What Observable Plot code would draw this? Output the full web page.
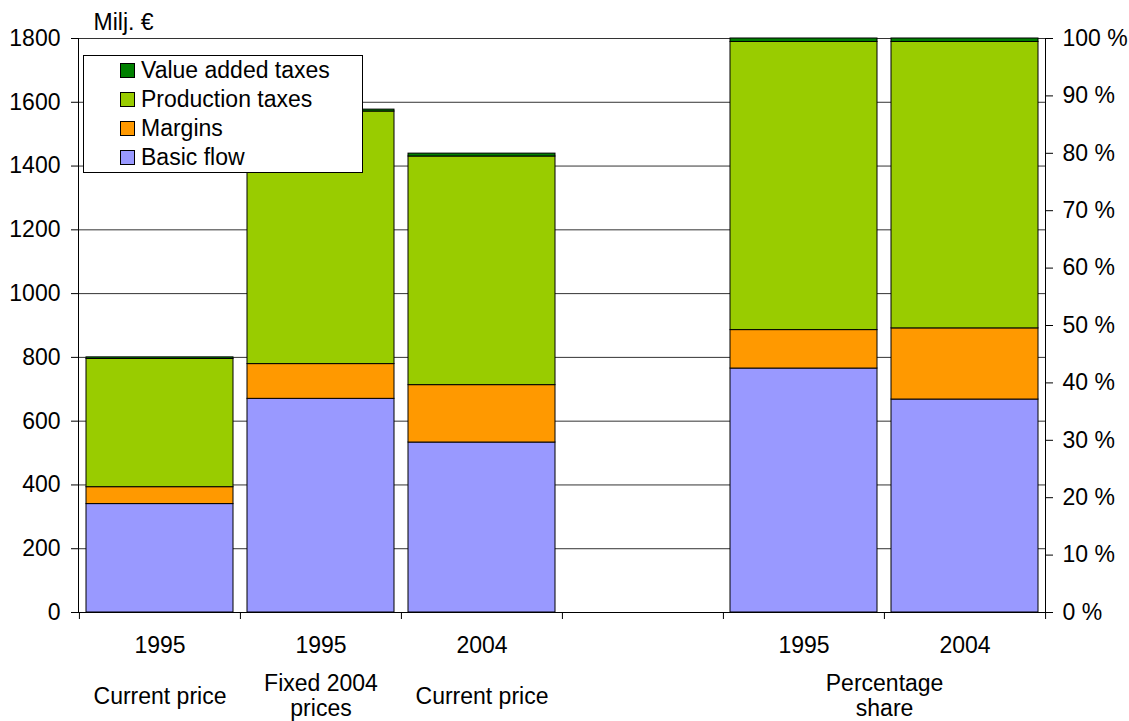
<!DOCTYPE html>
<html>
<head>
<meta charset="utf-8">
<script src="https://cdn.jsdelivr.net/npm/d3@7"></script>
<script src="https://cdn.jsdelivr.net/npm/@observablehq/plot@0.6"></script>
<style>
  body { margin: 0; background: #fff; font-family: "Liberation Sans", Arial, sans-serif; }
  #chart { position: relative; width: 1129px; height: 721px; }
  #chart svg { position: absolute; left: 0; top: 0; background: transparent; }
  .legend { position: absolute; left: 83px; top: 55px; width: 278px; height: 116px;
            border: 1px solid #000; background: #fff; }
  .legend .row { position: absolute; left: 36px; height: 20px; display: flex; align-items: center;
                 font-size: 23px; color: #000; white-space: nowrap; }
  .legend .sw { width: 13px; height: 13px; border: 1px solid #000; margin-right: 6px; flex: none; }
</style>
</head>
<body>
<div id="chart"></div>
<script>
// Column slots along the x axis (one empty slot separates the two chart parts)
const slots = ["cp1995", "fp1995", "cp2004", "gap", "ps1995", "ps2004"];
const yearLabels = ["1995", "1995", "2004", "", "1995", "2004"];
const groupLabels = ["Current price", "Fixed 2004\nprices", "Current price", "", "", ""];
const shareGroupLabel = "Percentage\nshare";

// Stack components, bottom to top
const components = ["Basic flow", "Margins", "Production taxes", "Value added taxes"];
const componentColors = ["#9999ff", "#ff9900", "#99cc00", "#008000"];

// Million euros (left axis)
const euroSlots = ["cp1995", "fp1995", "cp2004"];
const basicFlow = [340, 670, 533];
const margins = [53, 109, 180];
const productionTaxes = [402, 792, 717];
const valueAddedTaxes = [5, 6, 9];

// Percentage shares (right axis)
const shareSlots = ["ps1995", "ps2004"];
const shareBasicFlow = [42.5, 37.1];
const shareMargins = [6.7, 12.4];
const shareProductionTaxes = [50.2, 49.9];
const shareValueAddedTaxes = [0.6, 0.6];

const euroTicks = [0, 200, 400, 600, 800, 1000, 1200, 1400, 1600, 1800];
const shareTicks = [0, 10, 20, 30, 40, 50, 60, 70, 80, 90, 100];

function toRows(slotList, seriesList) {
  return components.flatMap((component, i) =>
    slotList.map((slot, j) => ({slot, component, value: seriesList[i][j]})));
}
const euroRows = toRows(euroSlots, [basicFlow, margins, productionTaxes, valueAddedTaxes]);
const shareRows = toRows(shareSlots, [shareBasicFlow, shareMargins, shareProductionTaxes, shareValueAddedTaxes]);

const W = 1129, H = 721;
const M = {left: 78, right: 84, top: 38, bottom: 109};
const plotHeight = H - M.top - M.bottom;
const step = (W - M.left - M.right) / slots.length;
const font = {fontSize: "23px", fontFamily: "'Liberation Sans', Arial, sans-serif", background: "transparent", overflow: "visible"};

const common = {
  width: W, height: H,
  marginLeft: M.left, marginRight: M.right, marginTop: M.top, marginBottom: M.bottom,
  style: font,
  x: {type: "band", domain: slots, paddingInner: 0.088, paddingOuter: 0.044, axis: null},
  color: {domain: components, range: componentColors}
};

// Left part: values in million euros
const euroPlot = Plot.plot({
  ...common,
  y: {domain: [0, 1800], axis: null},
  marks: [
    Plot.gridY(euroTicks, {stroke: "#333", strokeOpacity: 1}),
    Plot.barY(euroRows, Plot.stackY({x: "slot", y: "value", fill: "component", stroke: "#000", strokeWidth: 1})),
    Plot.frame({anchor: "left"}),
    Plot.frame({anchor: "bottom"}),
    Plot.axisY(euroTicks, {anchor: "left", label: null, tickSize: 7, tickPadding: 11, tickFormat: "d"}),
    Plot.ruleX(slots, {x: d => d, dx: -step / 2, insetTop: plotHeight, insetBottom: -7, stroke: "#000"}),
    Plot.text(slots, {x: d => d, text: (d, i) => yearLabels[i], frameAnchor: "bottom", dy: 33, lineAnchor: "middle"}),
    Plot.text(slots, {x: d => d, text: (d, i) => groupLabels[i], frameAnchor: "bottom", dy: 83, lineAnchor: "middle", lineHeight: 1.1}),
    Plot.text(["Milj. €"], {frameAnchor: "top-left", dx: 15, dy: -16, textAnchor: "start", lineAnchor: "middle"})
  ]
});

// Right part: percentage shares
const sharePlot = Plot.plot({
  ...common,
  y: {domain: [0, 100], axis: null},
  marks: [
    Plot.barY(shareRows, Plot.stackY({x: "slot", y: "value", fill: "component", stroke: "#000", strokeWidth: 1})),
    Plot.frame({anchor: "right"}),
    Plot.axisY(shareTicks, {anchor: "right", label: null, tickSize: 7, tickPadding: 10, tickFormat: d => `${d} %`}),
    Plot.ruleX([slots[slots.length - 1]], {x: d => d, dx: step / 2, insetTop: plotHeight, insetBottom: -7, stroke: "#000"}),
    Plot.text([{slot: shareSlots[0], label: shareGroupLabel}], {x: "slot", text: "label", dx: step / 2, frameAnchor: "bottom", dy: 83, lineAnchor: "middle", lineHeight: 1.1})
  ]
});

const chart = document.getElementById("chart");
chart.append(euroPlot, sharePlot);

// Legend box, top entry first
const legend = document.createElement("div");
legend.className = "legend";
components.slice().reverse().forEach((name, i) => {
  const row = document.createElement("div");
  row.className = "row";
  row.style.top = `${4 + i * 29}px`;
  const sw = document.createElement("span");
  sw.className = "sw";
  sw.style.background = componentColors[components.indexOf(name)];
  const label = document.createElement("span");
  label.textContent = name;
  row.append(sw, label);
  legend.append(row);
});
chart.append(legend);
</script>
</body>
</html>
